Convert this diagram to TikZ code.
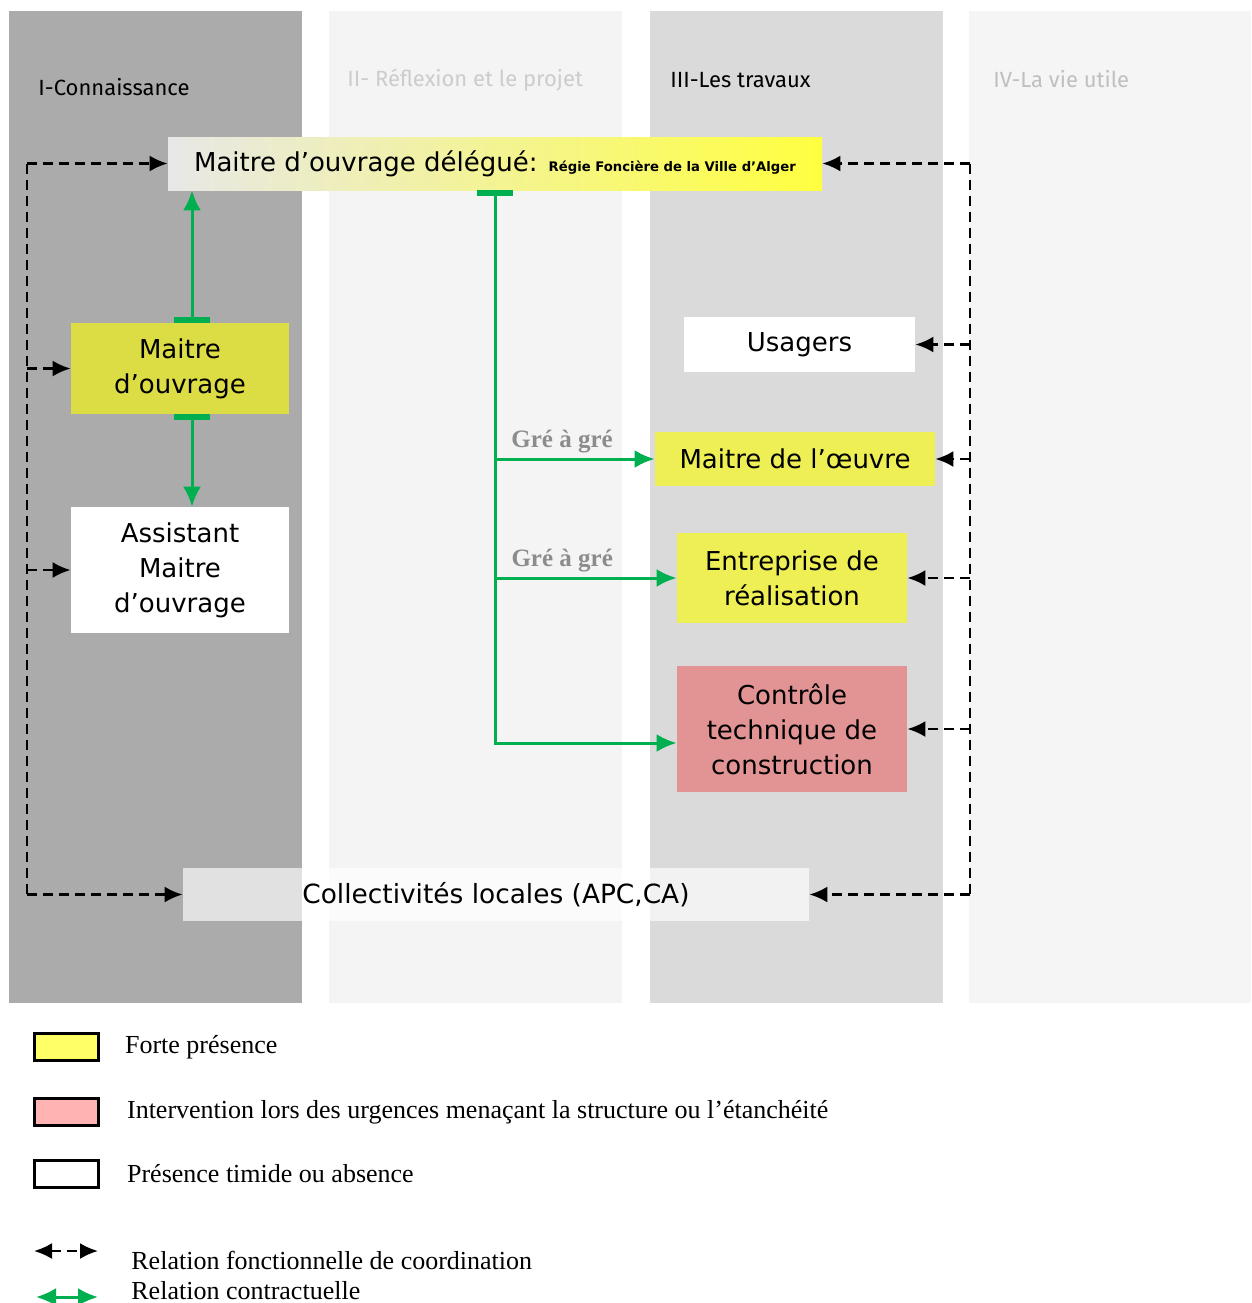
\documentclass[tikz,border=0pt]{standalone}
\usepackage{fontspec}
\setmainfont{Liberation Serif}
\newfontfamily\boxfont{DejaVu Sans}
\newfontfamily\headfont{Fira Sans}
\usetikzlibrary{arrows.meta, positioning}
\definecolor{colI}{HTML}{ABABAB}
\definecolor{colII}{HTML}{F4F4F4}
\definecolor{colIII}{HTML}{DADADA}
\definecolor{colIV}{HTML}{F5F5F5}
\definecolor{contrgreen}{HTML}{00B050}
\definecolor{moyellow}{HTML}{DCDC44}
\definecolor{actyellow}{HTML}{EEEE55}
\definecolor{ctcpink}{HTML}{E29494}
\definecolor{legyellow}{HTML}{FFFF66}
\definecolor{legpink}{HTML}{FFB3B3}

\begin{document}
\begin{tikzpicture}[x=0.5pt, y=-0.5pt,
    actor/.style={inner sep=0pt, align=center, font=\boxfont\fontsize{13pt}{17.5pt}\selectfont},
    phase/.style={anchor=west, inner sep=0pt, font=\headfont\fontsize{11pt}{13pt}\selectfont},
    contr/.style={line width=1.5pt, contrgreen},
    bararr/.style={{Bar[width=18pt,line width=3pt]}-{Latex[length=10pt,width=9pt]}},
    garr/.style={-{Latex[length=10pt,width=9pt]}},
    coordline/.style={line width=1.2pt, dash pattern=on 5pt off 3pt},
    coord/.style={coordline, -{Latex[length=9pt,width=8pt]}},
    gre/.style={font=\bfseries\fontsize{12.5pt}{14pt}\selectfont, text=black!45, inner sep=2pt},
    legbox/.style={draw, line width=1.2pt, minimum width=32pt, minimum height=13.5pt, inner sep=0pt},
    legtext/.style={anchor=west, inner sep=0pt, font=\fontsize{13pt}{15pt}\selectfont}
  ]
  \useasboundingbox (0,0) rectangle (1252,1303);
  \fill[colI] (9,11) rectangle (302,1003);
  \fill[colII] (329,11) rectangle (622,1003);
  \fill[colIII] (650,11) rectangle (943,1003);
  \fill[colIV] (969,11) rectangle (1251,1003);

  \node[phase] (ph1) at (38,87) {I-Connaissance};
  \node[phase, text=black!20] (ph2) at (347,80) {II- Réflexion et le projet};
  \node[phase] (ph3) at (670,80) {III-Les travaux};
  \node[phase, text=black!25] (ph4) at (993,79) {IV-La vie utile};

  \node[actor, minimum width=327pt, minimum height=26.5pt, left color=black!9, middle color=yellow!22, right color=yellow!75!white] (mod) at (495,163.5) {Maitre d’ouvrage délégué: {\bfseries\fontsize{6.6pt}{8pt}\selectfont Régie Foncière de la Ville d’Alger}};
  \node[actor, fill=moyellow, minimum width=109pt, minimum height=45.5pt] (mo) at (180,368.5) {Maitre\\d’ouvrage};
  \node[actor, fill=white, minimum width=109pt, minimum height=63pt] (amo) at (180,570) {Assistant\\Maitre\\d’ouvrage};
  \node[actor, fill=white, minimum width=115.5pt, minimum height=27.5pt] (usa) at (799.5,344.5) {Usagers};
  \node[actor, fill=actyellow, minimum width=140pt, minimum height=27pt] (mdo) at (795,459) {Maitre de l’œuvre};
  \node[actor, fill=actyellow, minimum width=115pt, minimum height=45pt] (ent) at (792,578) {Entreprise de\\réalisation};
  \node[actor, fill=ctcpink, minimum width=115pt, minimum height=63pt] (ctc) at (792,729) {Contrôle\\technique de\\construction};
  \node[actor, fill=white, fill opacity=0.65, text opacity=1, minimum width=313pt, minimum height=26.5pt, font=\boxfont\fontsize{13.2pt}{15pt}\selectfont] (col) at (496,894.5) {Collectivités locales (APC,CA)};

  \draw[contr, bararr] ([xshift=6pt]mo.north) -- ([xshift=6pt]mo.north |- mod.south);
  \draw[contr, bararr] ([xshift=6pt]mo.south) -- ([xshift=6pt]mo.south |- amo.north);
  \draw[contr, bararr] (mod.south) |- ([yshift=-7pt]ctc.west);
  \draw[contr, garr] (mod.south |- mdo.west) -- node[gre, above, pos=0.42] (g1) {Gré à gré} (mdo.west);
  \draw[contr, garr] (mod.south |- ent.west) -- node[gre, above, pos=0.37] (g2) {Gré à gré} (ent.west);

  \coordinate (lx) at (27,0);
  \coordinate (rx) at (970,0);
  \draw[coordline] (lx |- mod.west) -- (lx |- col.west);
  \draw[coord] (lx |- mod.west) -- (mod.west);
  \draw[coord] (lx |- mo.west) -- (mo.west);
  \draw[coord] (lx |- amo.west) -- (amo.west);
  \draw[coord] (lx |- col.west) -- (col.west);
  \draw[coordline] (rx |- mod.east) -- (rx |- col.east);
  \draw[coord] (rx |- mod.east) -- (mod.east);
  \draw[coord] (rx |- usa.east) -- (usa.east);
  \draw[coord] (rx |- mdo.east) -- (mdo.east);
  \draw[coord] (rx |- ent.east) -- (ent.east);
  \draw[coord] (rx |- ctc.east) -- (ctc.east);
  \draw[coord] (rx |- col.east) -- (col.east);

  \node[legbox, fill=legyellow] (k1) at (66.5,1047) {};
  \node[legtext, right=12.5pt of k1] (k1t) {Forte présence};
  \node[legbox, fill=legpink] (k2) at (66.5,1112) {};
  \node[legtext, right=13.5pt of k2] (k2t) {Intervention lors des urgences menaçant la structure ou l’étanchéité};
  \node[legbox, fill=white] (k3) at (66.5,1174) {};
  \node[legtext, right=13.5pt of k3] (k3t) {Présence timide ou absence};
  \coordinate (k4a) at (34,1251);
  \coordinate (k4b) at (98,1251);
  \draw[coordline, {Latex[length=9pt,width=8pt]}-{Latex[length=9pt,width=8pt]}] (k4a) -- (k4b);
  \node[legtext] (k4t) at (131,1260) {Relation fonctionnelle de coordination};
  \coordinate (k5a) at (36,1297);
  \coordinate (k5b) at (98,1297);
  \draw[contr, {Latex[length=10pt,width=9pt]}-{Latex[length=10pt,width=9pt]}] (k5a) -- (k5b);
  \node[legtext] (k5t) at (131,1291) {Relation contractuelle};
\end{tikzpicture}
\end{document}
